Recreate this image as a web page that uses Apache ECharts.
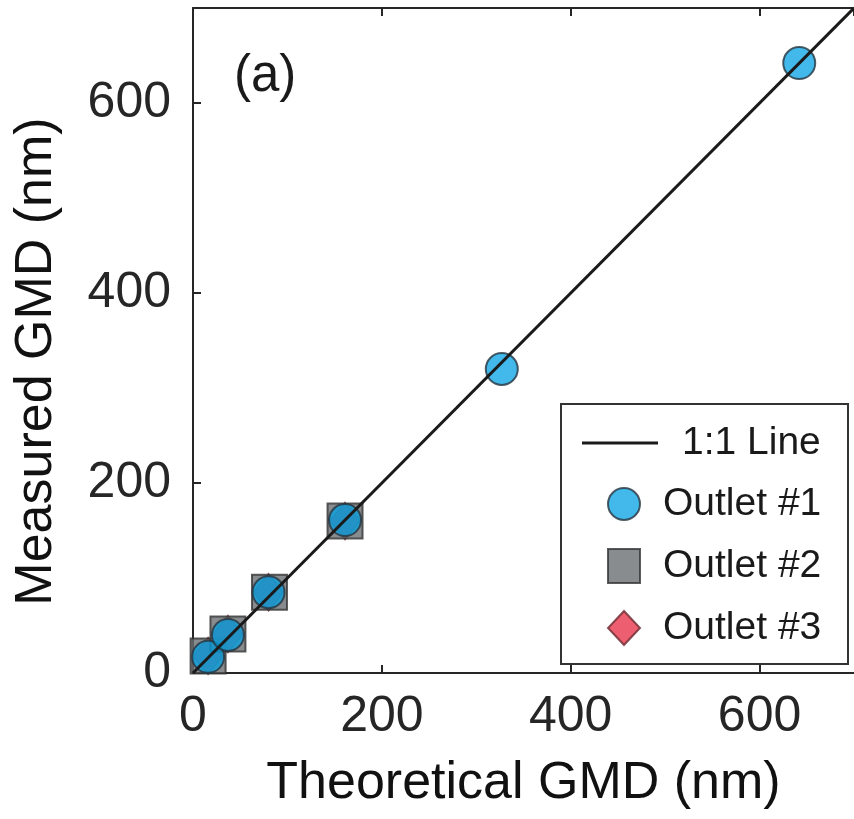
<!DOCTYPE html>
<html>
<head>
<meta charset="utf-8">
<script src="https://cdn.jsdelivr.net/npm/echarts@6/dist/echarts.min.js"></script>
<style>
  html, body { margin: 0; padding: 0; background: #fff; }
  #chart { width: 854px; height: 819px; }
</style>
</head>
<body>
<div id="chart"></div>
<script>
// theoretical vs measured GMD (nm)
const outlet1X = [16, 37, 80, 161, 327, 642]
const outlet1Y = [17, 40, 85, 161, 320, 642]
const outlet2X = [16, 37, 81, 161]
const outlet2Y = [18, 41, 85, 160]
const outlet3X = [16, 37, 80, 161]
const outlet3Y = [18, 41, 85, 160]
const lineX = [0, 700]
const lineY = [0, 700]
const tickValues = [0, 200, 400, 600]

const font = 'Liberation Sans, Arial, Helvetica, sans-serif'
const ink = '#262626'

const pairs = (xs, ys) => xs.map((x, i) => [x, ys[i]])

const chart = echarts.init(document.getElementById('chart'))

chart.setOption({
  backgroundColor: '#fff',
  animation: false,
  title: {
    text: '(a)',
    left: 229,
    top: 46,
    textStyle: { fontFamily: font, fontSize: 51, fontWeight: 'normal', color: '#1a1a1a' },
  },
  // the axes box runs a little past the right edge of the window, as in the original
  grid: { left: 193, top: 8, width: 663, bottom: 146, show: false },
  xAxis: [{
    type: 'value',
    min: 0, max: 700, interval: 200,
    name: 'Theoretical GMD (nm)',
    nameLocation: 'middle',
    nameGap: 85,
    nameTextStyle: { fontFamily: font, fontSize: 52, color: '#111' },
    axisLine: { show: true, lineStyle: { color: ink, width: 2 } },
    axisTick: { show: true, inside: true, length: 8, lineStyle: { color: ink, width: 2 } },
    axisLabel: {
      fontFamily: font, fontSize: 50, color: ink, margin: 19,
      showMaxLabel: false,
      formatter: v => tickValues.includes(v) ? String(v) : '',
    },
    splitLine: { show: false },
  }, {
    type: 'value',
    position: 'top',
    min: 0, max: 700, interval: 200,
    axisLine: { show: true, lineStyle: { color: ink, width: 2 } },
    axisTick: { show: true, inside: true, length: 8, lineStyle: { color: ink, width: 2 } },
    axisLabel: { show: false },
    splitLine: { show: false },
  }],
  yAxis: {
    type: 'value',
    min: 0, max: 700, interval: 200,
    name: 'Measured GMD (nm)',
    nameLocation: 'middle',
    nameGap: 130,
    nameTextStyle: { fontFamily: font, fontSize: 52, color: '#111', padding: [0, 42, 0, 0] },
    axisLine: { show: true, lineStyle: { color: ink, width: 2 } },
    axisTick: { show: true, inside: true, length: 8, lineStyle: { color: ink, width: 2 } },
    axisLabel: {
      fontFamily: font, fontSize: 50, color: ink, margin: 22,
      showMaxLabel: false,
      formatter: v => tickValues.includes(v) ? String(v) : '',
    },
    splitLine: { show: false },
  },
  graphic: [{
    type: 'rect',
    shape: { x: 561, y: 404, width: 287, height: 260 },
    style: { fill: '#fff', stroke: '#333', lineWidth: 2 },
    z: 50,
  }],
  legend: [{
    data: ['1:1 Line'],
    left: 577, top: 418,
    orient: 'vertical',
    icon: 'rect',
    itemWidth: 76, itemHeight: 3,
    textStyle: { fontFamily: font, fontSize: 39, lineHeight: 40, color: '#1a1a1a', padding: [0, 0, 0, 19] },
    z: 60,
  }, {
    data: ['Outlet #1', 'Outlet #2', 'Outlet #3'],
    left: 602, top: 479,
    orient: 'vertical',
    itemWidth: 32, itemHeight: 34, itemGap: 22,
    textStyle: { fontFamily: font, fontSize: 39, lineHeight: 40, color: '#1a1a1a', padding: [0, 0, 0, 18] },
    z: 60,
  }],
  series: [{
    name: 'Outlet #3',
    type: 'scatter',
    symbol: 'diamond',
    symbolSize: [30, 37],
    data: pairs(outlet3X, outlet3Y),
    itemStyle: { color: '#e8364c', borderColor: '#6a2a30', borderWidth: 1.5 },
    z: 2,
  }, {
    name: 'Outlet #2',
    type: 'scatter',
    symbol: 'rect',
    symbolSize: 35,
    data: pairs(outlet2X, outlet2Y),
    itemStyle: { color: '#6c6f72', borderColor: '#333', borderWidth: 2 },
    z: 3,
  }, {
    name: 'Outlet #1',
    type: 'scatter',
    symbol: 'circle',
    symbolSize: 32,
    data: pairs(outlet1X, outlet1Y),
    itemStyle: { color: 'rgba(0,160,228,0.92)', borderColor: '#26343e', borderWidth: 2 },
    z: 4,
  }, {
    name: '1:1 Line',
    type: 'line',
    symbol: 'none',
    data: pairs(lineX, lineY),
    lineStyle: { color: '#1a1a1a', width: 3 },
    itemStyle: { color: '#1a1a1a' },
    z: 5,
  }],
})
</script>
</body>
</html>
